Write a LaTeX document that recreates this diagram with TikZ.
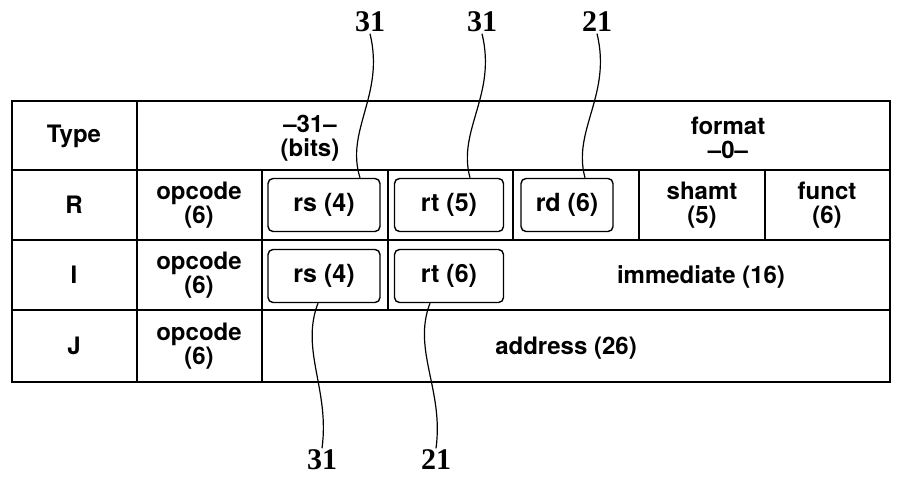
\documentclass[tikz,border=0pt]{standalone}
\usepackage{fontspec}
\setmainfont{TeX Gyre Heros}
\newfontfamily\numfont{Liberation Serif}
\begin{document}
\begin{tikzpicture}[x=1pt,y=-1pt,line width=1.4pt,
	cell/.style={font=\bfseries\fontsize{24}{24}\selectfont,align=center,inner sep=0pt},
	field/.style={draw,rounded corners=5pt,minimum height=53pt,font=\bfseries\fontsize{25}{21}\selectfont,inner sep=0pt},
	refnum/.style={font=\numfont\bfseries\fontsize{30}{30}\selectfont,inner sep=1pt},
	lead/.style={line width=1.2pt}]
		\useasboundingbox (0,0) rectangle (902,480);
		% Grid
		\draw (12,101) rectangle (890,382);
		\foreach \y in {170,240,310} \draw (12,\y) -- (890,\y);
		\draw (137,101) -- (137,382);
		\draw (262,170) -- (262,382);
		\draw (388,170) -- (388,310);
		\draw (513,170) -- (513,240);
		\draw (639,170) -- (639,240);
		\draw (765,170) -- (765,240);
		
		% Header
		\node[cell] (type) at (74,136) {Type};
		\node[cell] (bits) at (310,138) {--31--\\(bits)};
		\node[cell] (fmt) at (728,138) {format\\--0--};
		
		% Row R
		\node[cell] (R) at (74,205) {R};
		\node[cell] (opR) at (199,205) {opcode\\(6)};
		\node[field,minimum width=112pt] (rsR) at (324,205) {rs (4)};
		\node[field,minimum width=109pt] (rtR) at (449,205) {rt (5)};
		\node[field,minimum width=92pt] (rdR) at (567,205) {rd (6)};
		\node[cell] (shamt) at (702,205) {shamt\\(5)};
		\node[cell] (funct) at (827,205) {funct\\(6)};
		
		% Row I
		\node[cell] (I) at (74,275) {I};
		\node[cell] (opI) at (199,275) {opcode\\(6)};
		\node[field,minimum width=112pt] (rsI) at (324,276) {rs (4)};
		\node[field,minimum width=109pt] (rtI) at (449,276) {rt (6)};
		\node[cell] (imm) at (701,277) {immediate (16)};
		
		% Row J
		\node[cell] (J) at (74,346) {J};
		\node[cell] (opJ) at (199,346) {opcode\\(6)};
		\node[cell] (addr) at (566,348) {address (26)};
		
		% Reference numbers
		\node[refnum] (n1) at (370,22) {31};
		\node[refnum] (n2) at (482,22) {31};
		\node[refnum] (n3) at (597,22) {21};
		\node[refnum] (n4) at (322,460) {31};
		\node[refnum] (n5) at (436,460) {21};
		\draw[lead] (n1.south) .. controls (385,95) and (345,130) .. (rsR.north -| 360,0);
		\draw[lead] (n2.south) .. controls (497,95) and (457,130) .. (rtR.north -| 470,0);
		\draw[lead] (n3.south) .. controls (612,95) and (572,130) .. (rdR.north -| 585,0);
		\draw[lead] (rsI.south -| 318,0) .. controls (300,350) and (330,390) .. (n4.north);
		\draw[lead] (rtI.south -| 430,0) .. controls (412,350) and (444,390) .. (n5.north);
\end{tikzpicture}
\end{document}
